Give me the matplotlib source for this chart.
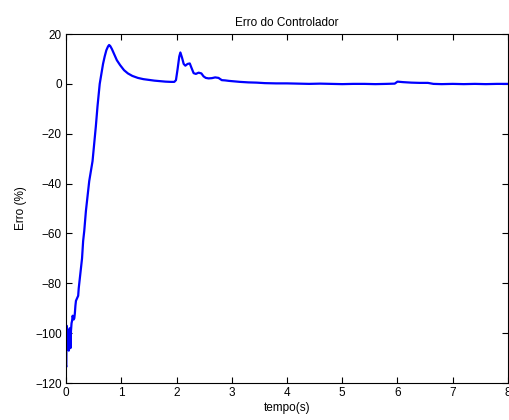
import matplotlib
matplotlib.use("Agg")
import matplotlib.pyplot as plt

plt.rcParams['font.family'] = ['Liberation Sans', 'DejaVu Sans']

# time (s) and controller error (%)
tempo = [0.00, 0.005, 0.01, 0.02, 0.03, 0.04, 0.05, 0.06, 0.07, 0.08, 0.09, 0.10,
         0.11, 0.12, 0.13, 0.14, 0.15, 0.16, 0.17, 0.18, 0.20, 0.22, 0.23, 0.25,
         0.27, 0.29, 0.31, 0.33, 0.36, 0.39, 0.42, 0.45, 0.48, 0.51, 0.54, 0.57,
         0.61, 0.64, 0.67, 0.70, 0.73, 0.76, 0.78, 0.80, 0.83, 0.87, 0.92, 0.98,
         1.05, 1.12, 1.20, 1.30, 1.40, 1.50, 1.60, 1.70, 1.80, 1.90, 1.96, 1.99,
         2.02, 2.05, 2.07, 2.10, 2.13, 2.16, 2.20, 2.24, 2.27, 2.31, 2.35, 2.40,
         2.45, 2.49, 2.53, 2.58, 2.64, 2.70, 2.76, 2.82, 2.88, 2.95, 3.05, 3.15,
         3.30, 3.45, 3.60, 3.80, 4.00, 4.20, 4.40, 4.60, 4.80, 5.00, 5.20, 5.40,
         5.60, 5.80, 5.95, 6.00, 6.10, 6.25, 6.40, 6.55, 6.65, 6.80, 7.00, 7.20,
         7.40, 7.60, 7.80, 8.00]
erro = [-113.0, -113.5, -97.0, -98.0, -104.0, -99.0, -107.0, -100.0, -98.0, -106.0, -99.0, -96.0,
        -95.0, -93.0, -94.0, -94.5, -94.0, -92.0, -89.0, -87.0, -86.0, -85.0, -82.0, -78.0,
        -74.0, -70.0, -63.0, -59.0, -51.0, -45.0, -39.0, -35.0, -31.0, -24.0, -17.0, -9.0,
        0.0, 4.0, 8.0, 11.0, 13.5, 15.0, 15.6, 15.2, 14.0, 12.0, 9.5, 7.5,
        5.5, 4.2, 3.2, 2.4, 1.9, 1.6, 1.3, 1.1, 0.9, 0.8, 0.8, 1.5,
        6.0, 11.0, 12.6, 10.5, 8.0, 7.3, 8.0, 8.2, 6.5, 4.3, 4.0, 4.5,
        4.2, 3.0, 2.4, 2.2, 2.3, 2.6, 2.4, 1.5, 1.4, 1.2, 1.0, 0.8,
        0.6, 0.5, 0.3, 0.2, 0.2, 0.1, 0.0, 0.1, 0.0, -0.1, 0.0, 0.0,
        -0.1, 0.0, 0.1, 0.9, 0.7, 0.5, 0.4, 0.4, 0.0, -0.1, 0.0, -0.1,
        0.0, -0.1, 0.0, 0.0]

xticks = [0, 1, 2, 3, 4, 5, 6, 7, 8]
yticks = [-120, -100, -80, -60, -40, -20, 0, 20]

fig = plt.figure(figsize=(5.09, 4.20), dpi=100)
ax = fig.add_axes([0.1297, 0.088, 0.8683, 0.831])
ax.plot(tempo, erro, color='#0000ff', linewidth=1.6)
ax.set_xlim(0, 8)
ax.set_ylim(-120, 20)
ax.set_xticks(xticks)
ax.set_yticks(yticks)
ax.tick_params(direction='in', length=4, width=0.8, labelsize=8.5,
               top=True, right=True, pad=3)
for s in ax.spines.values():
    s.set_linewidth(0.8)
ax.set_title('Erro do Controlador', fontsize=8.5, pad=6)
ax.set_xlabel('tempo(s)', fontsize=8.5, labelpad=2)
ax.set_ylabel('Erro (%)', fontsize=8.5, labelpad=6)
fig.savefig('out.png', dpi=100)
